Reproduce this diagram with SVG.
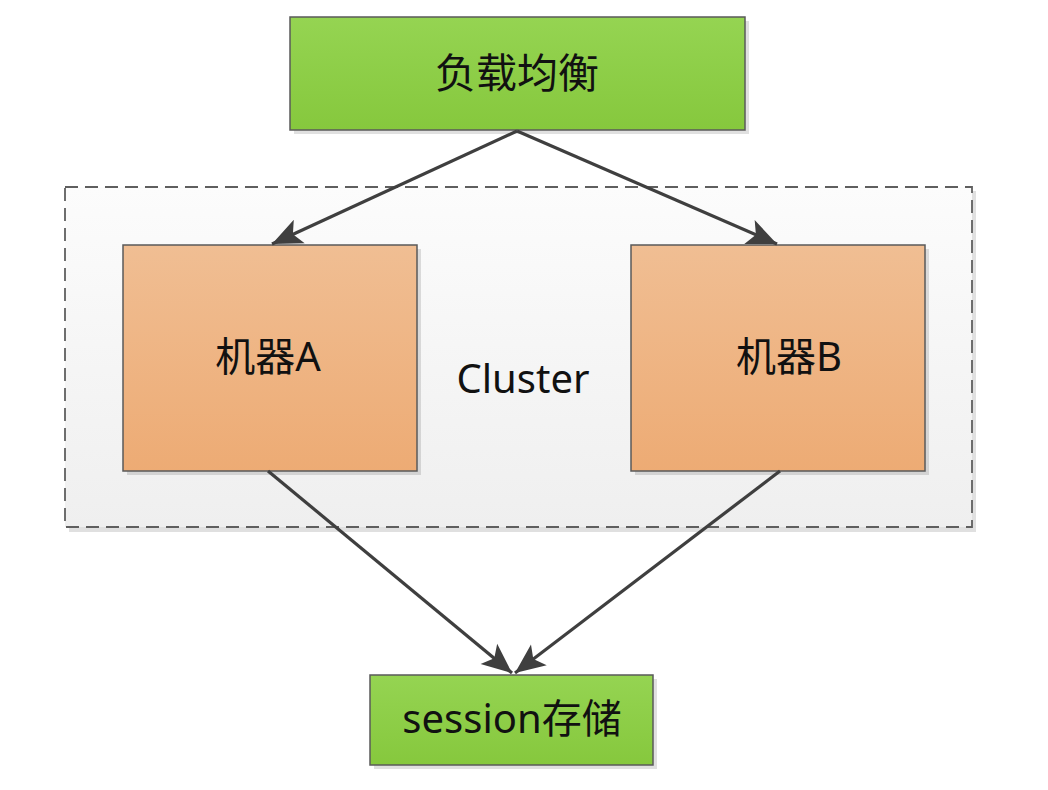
<svg xmlns="http://www.w3.org/2000/svg" width="1048" height="790" viewBox="0 0 1048 790">
<style>
.box{stroke:#5a5a5a;stroke-width:1.5}
.shadow{fill:#000;opacity:0.12}
.lbl{font-family:"Noto Sans","Noto Sans CJK SC",sans-serif;fill:#111;text-anchor:middle;dominant-baseline:central}
.edge{stroke:#3f3f3f;stroke-width:3.2;fill:none;marker-end:url(#arr)}
</style>
<defs>
<linearGradient id="g" x1="0" y1="0" x2="0" y2="1"><stop offset="0" stop-color="#95d452"/><stop offset="1" stop-color="#86c83d"/></linearGradient>
<linearGradient id="o" x1="0" y1="0" x2="0" y2="1"><stop offset="0" stop-color="#f0be93"/><stop offset="1" stop-color="#edab74"/></linearGradient>
<linearGradient id="c" x1="0" y1="0" x2="0" y2="1"><stop offset="0" stop-color="#fcfcfc"/><stop offset="1" stop-color="#efefef"/></linearGradient>
<marker id="arr" viewBox="-40 -20 42 40" refX="0" refY="0" markerWidth="42" markerHeight="40" orient="auto" markerUnits="userSpaceOnUse">
<path d="M-30,-13 L0,0 L-30,13 L-23,0 Z" fill="#3f3f3f"/>
</marker>
</defs>
<g id="cluster">
<rect x="69" y="191" width="907" height="341" class="shadow" opacity="0.06"/>
<rect x="65" y="187" width="907" height="340" fill="url(#c)" stroke="#5f5f5f" stroke-width="1.8" stroke-dasharray="13,7"/>
<text x="523" y="377" class="lbl" font-size="40">Cluster</text>
</g>
<g id="lb">
<rect x="294" y="21" width="455" height="113" class="shadow"/>
<rect x="290" y="17" width="455" height="113" fill="url(#g)" class="box"/>
<text x="517" y="72" class="lbl" font-size="41" font-family="Noto Sans CJK SC">负载均衡</text>
</g>
<g id="machineA">
<rect x="127" y="249" width="294" height="226" class="shadow"/>
<rect x="123" y="245" width="294" height="226" fill="url(#o)" class="box"/>
<text x="268" y="355" class="lbl" font-size="40">机器A</text>
</g>
<g id="machineB">
<rect x="635" y="249" width="294" height="226" class="shadow"/>
<rect x="631" y="245" width="294" height="226" fill="url(#o)" class="box"/>
<text x="789" y="355" class="lbl" font-size="40">机器B</text>
</g>
<g id="session">
<rect x="374" y="679" width="283" height="90" class="shadow"/>
<rect x="370" y="675" width="283" height="90" fill="url(#g)" class="box"/>
<text x="512" y="717" class="lbl" font-size="40">session存储</text>
</g>
<g id="connectors">
<line x1="517" y1="131" x2="272" y2="244" class="edge"/>
<line x1="517" y1="131" x2="777" y2="244" class="edge"/>
<line x1="268" y1="471" x2="512" y2="673" class="edge"/>
<line x1="780" y1="471" x2="515" y2="673" class="edge"/>
</g>
</svg>
